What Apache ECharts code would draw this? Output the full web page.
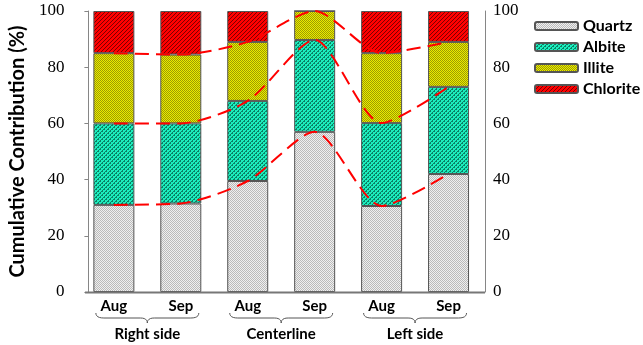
<!DOCTYPE html>
<html>
<head>
<meta charset="utf-8">
<script src="https://cdn.jsdelivr.net/npm/echarts@6/dist/echarts.min.js"></script>
<style>
  html, body { margin: 0; padding: 0; background: #fff; }
  #chart { width: 643px; height: 345px; }
</style>
</head>
<body>
<div id="chart"></div>
<script>
// Sampling months and the three transect positions
const categories = ['Aug', 'Sep', 'Aug', 'Sep', 'Aug', 'Sep'];
const groups = ['Right side', 'Centerline', 'Left side'];

// Mineral contributions (%) per sample, stacked bottom to top
const quartz   = [31.0, 31.5, 39.5, 57.0, 30.6, 42.0];
const albite   = [29.0, 28.5, 28.5, 32.7, 29.5, 31.0];
const illite   = [25.0, 24.5, 21.0, 10.3, 24.9, 16.0];
const chlorite = [15.0, 15.5, 11.0,  0.0, 15.0, 11.0];

// Y axis scale
const yMin = 0, yMax = 100, yStep = 20;

// Running totals used by the dashed connector lines
const cumQuartz = quartz.slice();
const cumAlbite = quartz.map((v, i) => +(v + albite[i]).toFixed(2));
const cumIllite = cumAlbite.map((v, i) => +(v + illite[i]).toFixed(2));

// Small repeating fill textures
function texture(w, h, bg, fg, test) {
  const c = document.createElement('canvas');
  c.width = w; c.height = h;
  const ctx = c.getContext('2d');
  ctx.fillStyle = bg; ctx.fillRect(0, 0, w, h);
  ctx.fillStyle = fg;
  for (let y = 0; y < h; y++)
    for (let x = 0; x < w; x++)
      if (test(x, y)) ctx.fillRect(x, y, 1, 1);
  return { image: c, repeat: 'repeat' };
}
const quartzFill   = texture(4, 4, '#efefef', '#bababa', (x, y) => (x + y) % 2 === 0);
const albiteFill   = texture(4, 4, '#1cedbd', '#0a8065', (x, y) => (x + y) % 4 === 0 || ((x + y) % 4 === 1 && x % 2 === 0));
const illiteFill   = texture(2, 2, '#ecec00', '#9c9c00', (x, y) => (x + y) % 2 === 0);
const chloriteFill = texture(4, 4, '#ff0000', '#7a0000', (x, y) => (x + y) % 4 === 0);

const GRID_LEFT = 77, GRID_RIGHT = 161, GRID_TOP = 11, GRID_BOTTOM = 53;
const LEFT_AXIS_SHIFT = -8, RIGHT_AXIS_SHIFT = 3;
const axisGray = '#868686';
const sans = 'Lato';
const serif = '"Liberation Serif", "Times New Roman", serif';

function barSeries(name, data, fill) {
  return {
    name: name, type: 'bar', stack: 'total', data: data, barWidth: 41,
    itemStyle: { color: fill, borderColor: '#555555', borderWidth: 1 },
    emphasis: { disabled: true }, z: 2
  };
}
function linkSeries(data) {
  return {
    type: 'line', data: data, smooth: 0.25, symbol: 'none', z: 5,
    lineStyle: { color: '#ff0000', width: 2, type: [14, 7] },
    emphasis: { disabled: true }
  };
}

const chart = echarts.init(document.getElementById('chart'), null, { renderer: 'canvas' });

const yAxisBase = {
  type: 'value', min: yMin, max: yMax, interval: yStep,
  splitLine: { show: false },
  axisLine: { show: true, lineStyle: { color: axisGray, width: 1 } },
  axisLabel: { color: '#000', fontFamily: serif, fontSize: 17 }
};

chart.setOption({
  animation: false,
  grid: { left: GRID_LEFT, right: GRID_RIGHT, top: GRID_TOP, bottom: GRID_BOTTOM },
  legend: {
    orient: 'vertical', left: 529, top: 13,
    itemWidth: 43, itemHeight: 8, itemGap: 5,
    data: ['Quartz', 'Albite', 'Illite', 'Chlorite'],
    textStyle: { fontFamily: sans, fontWeight: 'bold', fontSize: 16, color: '#000' }
  },
  xAxis: [
    {
      type: 'category', data: categories, position: 'bottom',
      axisLine: { show: false }, axisTick: { show: false },
      axisLabel: { color: '#000', fontFamily: sans, fontWeight: 'bold', fontSize: 15, margin: 7 }
    },
    {
      type: 'category', data: groups, position: 'bottom', offset: 30,
      axisLine: { show: false }, axisTick: { show: false },
      axisLabel: { color: '#000', fontFamily: sans, fontWeight: 'bold', fontSize: 15, margin: 5 }
    }
  ],
  yAxis: [
    Object.assign({}, yAxisBase, {
      position: 'left', offset: LEFT_AXIS_SHIFT,
      name: 'Cumulative Contribution (%)', nameLocation: 'middle', nameGap: 52,
      nameTextStyle: { color: '#000', fontFamily: sans, fontWeight: 'bold', fontSize: 20 },
      axisTick: { show: true, length: 4, lineStyle: { color: axisGray } },
      axisLabel: Object.assign({}, yAxisBase.axisLabel, { margin: 24 })
    }),
    Object.assign({}, yAxisBase, {
      position: 'right', offset: RIGHT_AXIS_SHIFT,
      axisTick: { show: false },
      axisLabel: Object.assign({}, yAxisBase.axisLabel, { margin: 8 })
    })
  ],
  series: [
    barSeries('Quartz', quartz, quartzFill),
    barSeries('Albite', albite, albiteFill),
    barSeries('Illite', illite, illiteFill),
    barSeries('Chlorite', chlorite, chloriteFill),
    linkSeries(cumQuartz),
    linkSeries(cumAlbite),
    linkSeries(cumIllite)
  ]
});

// Sample a quadratic curve into points
function quad(p0, c, p1, n) {
  const pts = [];
  for (let i = 1; i <= n; i++) {
    const t = i / n, u = 1 - t;
    pts.push([u * u * p0[0] + 2 * u * t * c[0] + t * t * p1[0],
              u * u * p0[1] + 2 * u * t * c[1] + t * t * p1[1]]);
  }
  return pts;
}

// Bottom axis line between the two value axes, and braces grouping months by position
function drawExtras() {
  const w = chart.getWidth(), h = chart.getHeight();
  const baseY = h - GRID_BOTTOM;
  const xLeft = GRID_LEFT - LEFT_AXIS_SHIFT;
  const xRight = w - GRID_RIGHT + RIGHT_AXIS_SHIFT;
  const elements = [{
    type: 'line', z: 10,
    shape: { x1: xLeft, y1: baseY + 0.5, x2: xRight, y2: baseY + 0.5 },
    style: { stroke: '#777777', lineWidth: 2 }
  }];
  const y0 = baseY + 21, d = 5;
  groups.forEach((g, gi) => {
    const a = chart.convertToPixel({ xAxisIndex: 0 }, gi * 2);
    const b = chart.convertToPixel({ xAxisIndex: 0 }, gi * 2 + 1);
    const x1 = a - 18, x2 = b + 18, xm = (x1 + x2) / 2;
    let pts = [[x1, y0]];
    pts = pts.concat(quad([x1, y0], [x1, y0 + d], [x1 + 8, y0 + d], 6));
    pts.push([xm - 7, y0 + d]);
    pts = pts.concat(quad([xm - 7, y0 + d], [xm, y0 + d], [xm, y0 + 2 * d], 6));
    pts = pts.concat(quad([xm, y0 + 2 * d], [xm, y0 + d], [xm + 7, y0 + d], 6));
    pts.push([x2 - 8, y0 + d]);
    pts = pts.concat(quad([x2 - 8, y0 + d], [x2, y0 + d], [x2, y0], 6));
    elements.push({
      type: 'polyline', z: 10,
      shape: { points: pts },
      style: { fill: null, stroke: '#555555', lineWidth: 1 }
    });
  });
  chart.setOption({ graphic: { elements: elements } });
}
drawExtras();
</script>
</body>
</html>
